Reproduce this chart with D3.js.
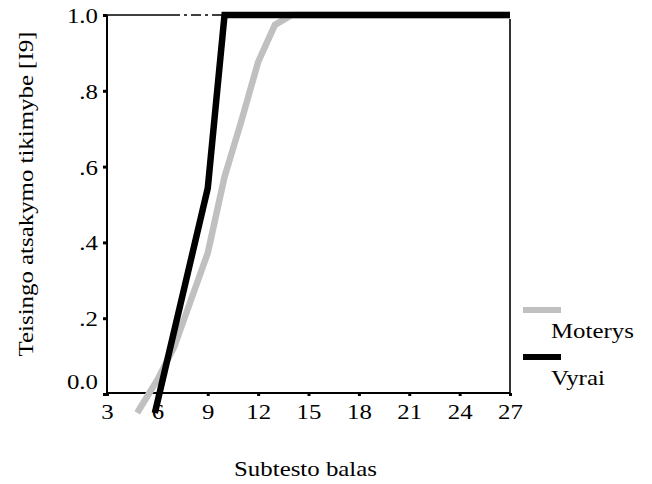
<!DOCTYPE html>
<html>
<head>
<meta charset="utf-8">
<script src="https://cdn.jsdelivr.net/npm/d3@7"></script>
<style>
  html, body { margin: 0; padding: 0; background: #fff; }
  svg { display: block; }
</style>
</head>
<body>
<svg id="chart" width="652" height="484"></svg>
<script>
// Subtest score (x) vs. probability of a correct answer (y)
const seriesNames = ["Moterys", "Vyrai"];
const seriesColors = ["#c0c0c0", "#000000"];
const moterysX = [4.8, 5, 6, 7, 8, 9, 10, 11, 12, 13, 14, 27];
const moterysY = [-0.05, -0.035, 0.037, 0.124, 0.248, 0.372, 0.573, 0.72, 0.876, 0.974, 1.0, 1.0];
const vyraiX = [5.85, 9, 10, 27];
const vyraiY = [-0.05, 0.543, 1.0, 1.0];
const xTicks = [3, 6, 9, 12, 15, 18, 21, 24, 27];
const yTicks = [0, 0.2, 0.4, 0.6, 0.8, 1.0];
const yTickLabels = ["0.0", ".2", ".4", ".6", ".8", "1.0"];

const FONT = "Liberation Serif";
const svg = d3.select("#chart").attr("font-family", FONT);
const plotLeft = 107, plotRight = 510, plotTop = 15, plotBottom = 394;
const stretch = 1.13;   // slightly wide serif lettering
const fs = 22;

const x = d3.scaleLinear().domain([3, 27]).range([plotLeft, plotRight]);
const y = d3.scaleLinear().domain([0, 1]).range([plotBottom, plotTop]);

// frame: top edge (solid, then dash-dot) and right edge
svg.append("line").attr("x1", plotLeft).attr("x2", 170).attr("y1", plotTop).attr("y2", plotTop)
  .attr("stroke", "#000").attr("stroke-width", 1.5);
svg.append("line").attr("x1", 170).attr("x2", x(10)).attr("y1", plotTop).attr("y2", plotTop)
  .attr("stroke", "#000").attr("stroke-width", 1.5).attr("stroke-dasharray", "10,4,3,4");
svg.append("line").attr("x1", plotRight).attr("x2", plotRight).attr("y1", 19).attr("y2", plotBottom - 1)
  .attr("stroke", "#333").attr("stroke-width", 2);

// axes
const xAxis = svg.append("g").attr("transform", `translate(0,${plotBottom - 1})`)
  .call(d3.axisBottom(x).tickValues(xTicks).tickSize(3).tickPadding(0).tickFormat(d3.format("d")));
xAxis.attr("font-family", FONT).attr("font-size", fs);
xAxis.select(".domain").attr("stroke", "#000").attr("stroke-width", 2)
  .attr("d", `M${plotLeft},0H${plotRight}`);
xAxis.selectAll(".tick line").attr("stroke", "#000").attr("stroke-width", 3);
xAxis.selectAll(".tick text")
  .attr("y", null).attr("dy", null)
  .attr("font-family", FONT).attr("font-size", fs).attr("fill", "#000")
  .attr("transform", `translate(0,26) scale(${stretch},1)`);

const yAxis = svg.append("g").attr("transform", `translate(${plotLeft},0)`)
  .call(d3.axisLeft(y).tickValues(yTicks).tickSize(4).tickPadding(0)
    .tickFormat((d, i) => yTickLabels[i]));
yAxis.attr("font-family", FONT).attr("font-size", fs);
yAxis.select(".domain").attr("stroke", "#000").attr("stroke-width", 2)
  .attr("d", `M0,${plotTop}V${plotBottom - 1}`);
yAxis.selectAll(".tick line").attr("stroke", "#000").attr("stroke-width", 3);
yAxis.selectAll(".tick text")
  .attr("x", null).attr("dy", null)
  .attr("font-family", FONT).attr("font-size", fs).attr("fill", "#000")
  .attr("text-anchor", "end")
  // the zero label sits a little higher so it clears the x tick labels
  .attr("transform", (d) => `translate(-9,${d === 0 ? -6 : 7.5}) scale(${stretch},1)`);

// lines
const line = d3.line().x(d => x(d[0])).y(d => y(d[1]));
const series = [
  d3.zip(moterysX, moterysY),
  d3.zip(vyraiX, vyraiY)
];
series.forEach((pts, i) => {
  svg.append("path").datum(pts)
    .attr("d", line)
    .attr("fill", "none")
    .attr("stroke", seriesColors[i])
    .attr("stroke-width", 6.5)
    .attr("stroke-linejoin", "miter")
    .attr("stroke-linecap", "butt");
});

// legend
const legY = [310, 357];
seriesNames.forEach((name, i) => {
  svg.append("rect").attr("x", 523).attr("y", legY[i] - 3).attr("width", 38).attr("height", 6)
    .attr("fill", seriesColors[i]);
  svg.append("text")
    .attr("transform", `translate(551,${legY[i] + 28}) scale(${stretch},1)`)
    .attr("font-family", FONT).attr("font-size", fs)
    .text(name);
});

// axis titles
svg.append("text")
  .attr("transform", `translate(${(plotLeft + plotRight) / 2 - 3},476) scale(${stretch},1)`)
  .attr("text-anchor", "middle").attr("font-family", FONT).attr("font-size", fs)
  .text("Subtesto balas");
svg.append("text")
  .attr("transform", `translate(33,194) rotate(-90) scale(${stretch},1)`)
  .attr("text-anchor", "middle").attr("font-family", FONT).attr("font-size", fs)
  .text("Teisingo atsakymo tikimybe [I9]");
</script>
</body>
</html>
